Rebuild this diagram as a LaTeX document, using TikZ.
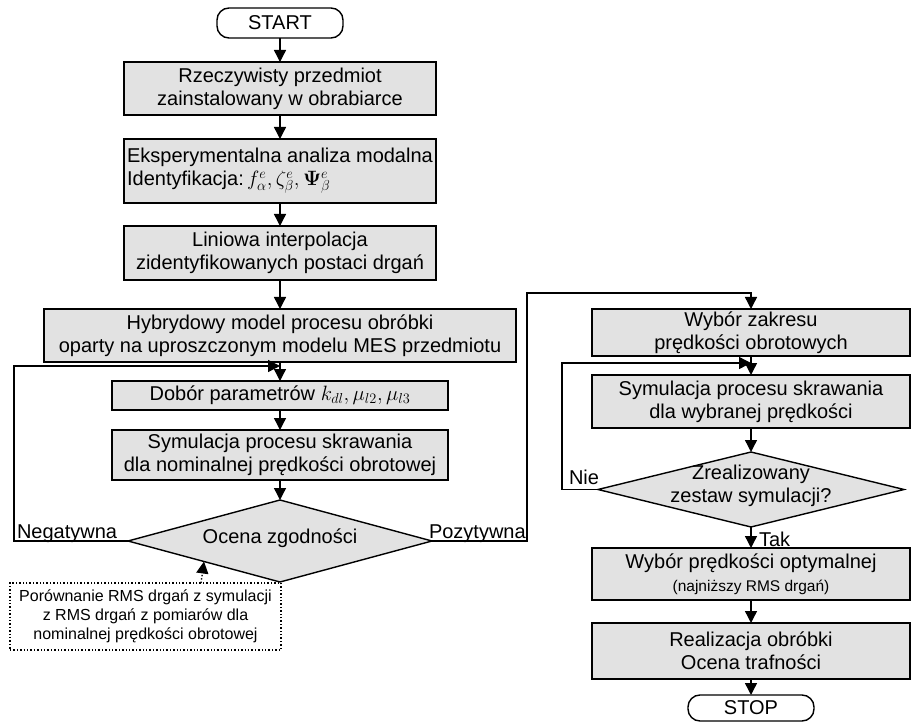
\documentclass[tikz,border=0pt]{standalone}
\usepackage[no-math]{fontspec}
\setmainfont{Liberation Sans}
\usetikzlibrary{arrows.meta,shapes.geometric}
\definecolor{boxgray}{RGB}{226,226,226}
\tikzset{
  base/.style={draw, line width=1.4pt, inner sep=0pt, outer sep=0pt, align=center, font=\fontsize{20}{23}\selectfont},
  box/.style={base, fill=boxgray, rectangle},
  term/.style={base, rounded corners=12pt, minimum width=126pt, minimum height=30pt},
  dec/.style={base, fill=boxgray, diamond},
  arr/.style={line width=1.4pt, -{Triangle[length=12pt,width=12pt]}},
  lbl/.style={font=\fontsize{20}{23}\selectfont, inner sep=0pt, outer sep=0pt},
  note/.style={draw, dotted, line width=1.4pt, font=\fontsize{16}{19}\selectfont, align=center, inner sep=0pt, outer sep=0pt}
}
\begin{document}
\begin{tikzpicture}[x=1pt,y=-1pt]
\useasboundingbox (0,0) rectangle (911,722);
% left column
\node[term] (start) at (280,23) {START};
\node[box, minimum width=312pt, minimum height=53pt] (b1) at (280,88.5) {Rzeczywisty przedmiot\\zainstalowany w obrabiarce};
\node[box, minimum width=312pt, minimum height=64pt, align=left] (b2) at (280,171) {Eksperymentalna analiza modalna\\Identyfikacja:\,$f^{e}_{\alpha},\zeta^{e}_{\beta},\mathbf{\Psi}^{e}_{\beta}$};
\node[box, minimum width=312pt, minimum height=54pt] (b3) at (280,253) {Liniowa interpolacja\\zidentyfikowanych postaci drgań};
\node[box, minimum width=472pt, minimum height=53pt] (b4) at (280,335.5) {Hybrydowy model procesu obróbki\\oparty na uproszczonym modelu MES przedmiotu};
\node[box, minimum width=336pt, minimum height=29pt] (b5) at (280,395.5) {Dobór parametrów $k_{dl}, \mu_{l2}, \mu_{l3}$};
\node[box, minimum width=336pt, minimum height=50pt] (b6) at (280,455) {Symulacja procesu skrawania\\dla nominalnej prędkości obrotowej};
\node[dec, minimum width=304pt, minimum height=82pt, aspect=3.7, label={[lbl, yshift=3pt]center:Ocena zgodności}] (d1) at (280,541) {};
\node[note, minimum width=271pt, minimum height=67pt] (rms) at (145.5,616.5) {Porównanie RMS drgań z symulacji\\z RMS drgań z pomiarów dla\\nominalnej prędkości obrotowej};
% right column
\node[box, minimum width=318pt, minimum height=47pt] (r1) at (751,332.5) {Wybór zakresu\\prędkości obrotowych};
\node[box, minimum width=318pt, minimum height=53pt] (r2) at (751,401.5) {Symulacja procesu skrawania\\dla wybranej prędkości};
\node[dec, minimum width=306pt, minimum height=75pt, label={[lbl, align=center, yshift=4pt]center:Zrealizowany\\zestaw symulacji?}] (d2) at (751,489.5) {};
\node[box, minimum width=318pt, minimum height=52pt] (r3) at (751,574) {Wybór prędkości optymalnej\\{\fontsize{15.5}{23}\selectfont (najniższy RMS drgań)}};
\node[box, minimum width=318pt, minimum height=56pt] (r4) at (751,651) {Realizacja obróbki\\Ocena trafności};
\node[term, minimum height=26pt] (stop) at (751,708) {STOP};
% helper coordinates
\coordinate (jl) at (280,366);
\coordinate (nl) at (14,366);
\coordinate (pr) at (527,293);
\coordinate (jr) at (751,363);
\coordinate (nr) at (562,363);
% connectors
\draw[arr] (start) -- (b1);
\draw[arr] (b1) -- (b2);
\draw[arr] (b2) -- (b3);
\draw[arr] (b3) -- (b4);
\draw[arr] (b4) -- (b5);
\draw[arr] (b5) -- (b6);
\draw[arr] (b6) -- (d1);
\draw[arr] (d1.west) -| (nl) -- (jl);
\draw[arr] (d1.east) -| (pr) -| (r1.north);
\draw[arr, dotted] ([xshift=-80pt]rms.north east) -- (d1.south west);
\draw[arr] (r1) -- (r2);
\draw[arr] (r2) -- (d2);
\draw[arr] (d2.west) -| (nr) -- (jr);
\draw[arr] (d2) -- (r3);
\draw[arr] (r3) -- (r4);
\draw[arr] (r4) -- (stop);
% labels
\node[lbl, anchor=base west] (neg) at (17,538) {Negatywna};
\node[lbl, anchor=base west] (poz) at (429,538) {Pozytywna};
\node[lbl, anchor=base west] (nie) at (569,484) {Nie};
\node[lbl, anchor=base west] (tak) at (759,546) {Tak};
\end{tikzpicture}
\end{document}
